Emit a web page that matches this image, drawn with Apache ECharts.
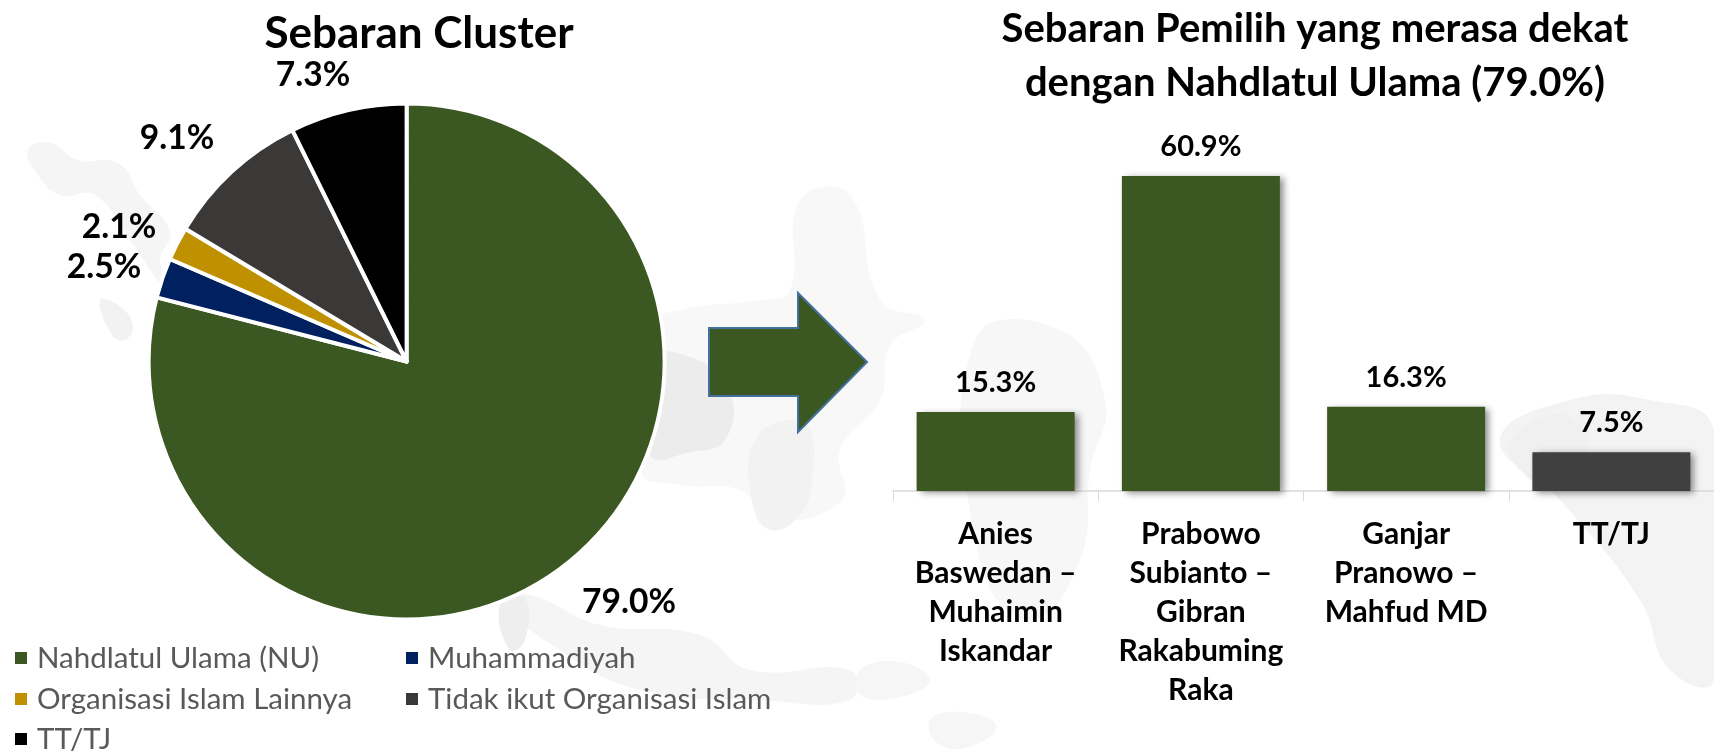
<!DOCTYPE html>
<html><head><meta charset="utf-8">
<style>html,body{margin:0;padding:0;background:#fff}#c{width:1714px;height:751px}</style>
<script src="https://cdn.jsdelivr.net/npm/echarts@6/dist/echarts.min.js"></script>
</head><body><div id="c"></div>
<script>
const pieNames = ['Nahdlatul Ulama (NU)','Muhammadiyah','Organisasi Islam Lainnya','Tidak ikut Organisasi Islam','TT/TJ'];
const pieValues = [79.0,2.5,2.1,9.1,7.3];
const pieColors = ['#3b5823','#002060','#bf9000','#3b3838','#000000'];
const pieLabelPos = [[629,602],[104,267],[119,227],[177,138],[313,75]];
const legendPos = [[13,643],[404,643],[13,684],[404,684],[13,724]];
const barCats = ['Anies\nBaswedan –\nMuhaimin\nIskandar','Prabowo\nSubianto –\nGibran\nRakabuming\nRaka','Ganjar\nPranowo –\nMahfud MD','TT/TJ'];
const barValues = [15.3,60.9,16.3,7.5];
const barColors = ['#3b5823','#3b5823','#3b5823','#404040'];
const FONT='Lato';
const mapBlobs = [
 {c:'#f5f5f5',p:[[28,150],[50,143],[78,160],[118,163],[140,195],[170,232],[160,262],[180,300],[165,290],[130,240],[95,195],[60,195],[38,175]]},
 {c:'#f2f2f2',p:[[100,300],[118,305],[133,325],[125,340],[112,335]]},
 {c:'#f8f8f8',p:[[640,330],[680,310],[760,300],[790,290],[800,200],[850,195],[880,300],[925,320],[890,345],[880,400],[840,450],[842,500],[770,520],[740,490],[680,485],[640,470]]},
 {c:'#ececec',p:[[640,360],[690,357],[729,390],[725,440],[690,452],[650,455]]},
 {c:'#f2f2f2',p:[[755,440],[790,420],[810,430],[812,480],[800,515],[770,530],[752,500]]},
 {c:'#f5f5f5',p:[[500,600],[530,595],[600,625],[700,635],[750,670],[850,670],[850,700],[760,700],[640,690],[560,650]]},
 {c:'#eeeeee',p:[[500,605],[525,598],[525,640],[510,650]]},
 {c:'#f7f7f7',p:[[975,340],[1060,330],[1105,400],[1090,470],[1080,560],[1030,620],[980,560]]},
 {c:'#f3f3f3',p:[[1500,440],[1570,400],[1650,400],[1714,430],[1714,680],[1670,670],[1640,600],[1560,500]]},
 {c:'#f0f0f0',p:[[1510,440],[1565,415],[1590,460],[1560,490],[1520,470]]},
 {c:'#f6f6f6',p:[[930,720],[960,712],[996,725],[975,745],[940,745]]},
 {c:'#f6f6f6',p:[[860,670],[900,662],[930,680],[900,697],[860,695]]}
];
const graphics = mapBlobs.map(b=>({type:'polygon',silent:true,z:-10,shape:{points:b.p,smooth:0.45},style:{fill:b.c}}));
graphics.push({type:'polygon',silent:true,z:1,shape:{points:[[709,328],[798,328],[798,293],[867,362],[798,432],[798,396],[709,396]]},
 style:{fill:'#3b5823',stroke:'#41719c',lineWidth:2}});
const chart = echarts.init(document.getElementById('c'),null,{renderer:'canvas'});
chart.setOption({
 animation:false,
 backgroundColor:'#fff',
 textStyle:{fontFamily:FONT},
 graphic:graphics,
 title:[
  {text:'Sebaran Cluster',left:414,top:7,textAlign:'center',textStyle:{fontFamily:FONT,fontWeight:'bold',fontSize:44,color:'#000'}},
  {text:'Sebaran Pemilih yang merasa dekat\ndengan Nahdlatul Ulama (79.0%)',left:1310,top:-3,textAlign:'center',
   textStyle:{fontFamily:FONT,fontWeight:'bold',fontSize:40,lineHeight:54,color:'#000'}}
 ],
 legend:pieNames.map((n,i)=>({data:[n],left:legendPos[i][0],top:legendPos[i][1],padding:0,icon:'rect',itemWidth:14,itemHeight:14,itemGap:0,selectedMode:false,
   textStyle:{fontFamily:FONT,fontSize:29.5,color:'#595959',padding:[0,0,0,4]}})),
 grid:{left:893,right:0,top:129,height:362,containLabel:false},
 xAxis:{type:'category',data:barCats,
   axisLine:{show:true,lineStyle:{color:'#d9d9d9',width:1.5}},
   axisTick:{show:true,length:10,alignWithLabel:false,lineStyle:{color:'#d9d9d9'}},
   axisLabel:{interval:0,margin:24,fontFamily:FONT,fontWeight:'bold',fontSize:30,lineHeight:39,color:'#000'}},
 yAxis:{type:'value',min:0,max:70,show:false,splitLine:{show:false}},
 series:[
  {type:'pie',center:[406.6,361.5],radius:[0,258],startAngle:90,clockwise:true,avoidLabelOverlap:false,
   itemStyle:{borderColor:'#fff',borderWidth:4},
   label:{show:true,position:'outside',formatter:p=>p.value.toFixed(1)+'%',fontFamily:FONT,fontWeight:'bold',fontSize:33.6,color:'#000'},
   labelLine:{show:false},
   labelLayout:p=>({x:pieLabelPos[p.dataIndex][0],y:pieLabelPos[p.dataIndex][1],align:'center',verticalAlign:'middle'}),
   emphasis:{disabled:true},
   data:pieNames.map((n,i)=>({name:n,value:pieValues[i],itemStyle:{color:pieColors[i]}}))},
  {type:'bar',barWidth:158,z:2,
   itemStyle:{shadowColor:'rgba(0,0,0,0.45)',shadowBlur:7,shadowOffsetX:4,shadowOffsetY:2},
   label:{show:true,position:'top',distance:15,formatter:p=>p.value.toFixed(1)+'%',fontFamily:FONT,fontWeight:'bold',fontSize:29,color:'#000'},
   data:barValues.map((v,i)=>({value:v,itemStyle:{color:barColors[i]}}))}
 ]
});
</script></body></html>
